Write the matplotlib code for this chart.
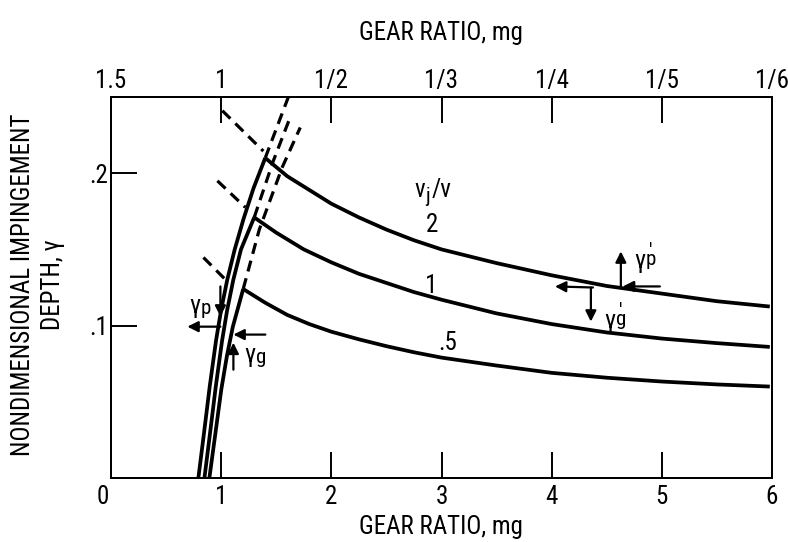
import matplotlib
matplotlib.use("Agg")
import matplotlib.pyplot as plt
from matplotlib import font_manager
from matplotlib.transforms import ScaledTranslation

names = {f.name for f in font_manager.fontManager.ttflist}
FAM = 'DejaVu Sans'
for cand in ['Liberation Sans Narrow', 'Roboto Condensed', 'DejaVu Sans Condensed', 'Roboto']:
    if cand in names:
        FAM = cand
        break
plt.rcParams['font.family'] = [FAM, 'DejaVu Sans']

# ---- data ----
# main curves (vj/v = 2, 1, .5)
c2_x = [1.40, 1.6, 1.8, 2.0, 2.25, 2.5, 2.75, 3.0, 3.5, 4.0, 4.5, 5.0, 5.5, 5.98]
c2_y = [0.210, 0.198, 0.189, 0.180, 0.171, 0.163, 0.156, 0.150, 0.141, 0.133, 0.126, 0.121, 0.116, 0.1125]
c1_x = [1.30, 1.5, 1.75, 2.0, 2.25, 2.5, 2.75, 3.0, 3.5, 4.0, 4.5, 5.0, 5.5, 5.98]
c1_y = [0.171, 0.161, 0.150, 0.1415, 0.134, 0.128, 0.122, 0.117, 0.108, 0.101, 0.0955, 0.0915, 0.0885, 0.086]
c05_x = [1.20, 1.4, 1.6, 1.8, 2.0, 2.25, 2.5, 2.75, 3.0, 3.5, 4.0, 4.5, 5.0, 5.5, 5.98]
c05_y = [0.124, 0.115, 0.107, 0.101, 0.096, 0.091, 0.0865, 0.0825, 0.079, 0.0738, 0.069, 0.0658, 0.0633, 0.0614, 0.060]

# rising (solid) branches, one per curve
r2_y = [0.0, 0.03, 0.06, 0.09, 0.11, 0.13, 0.15, 0.17, 0.19, 0.210]
r2_x = [0.793, 0.845, 0.896, 0.953, 0.999, 1.055, 1.123, 1.203, 1.293, 1.40]
r1_y = [0.0, 0.03, 0.06, 0.09, 0.11, 0.13, 0.15, 0.171]
r1_x = [0.848, 0.900, 0.951, 1.008, 1.054, 1.110, 1.180, 1.30]
r05_y = [0.0, 0.03, 0.058, 0.08, 0.099, 0.124]
r05_x = [0.893, 0.949, 1.001, 1.052, 1.105, 1.20]

# dashed continuations upward
u2_x = [1.40, 1.61]
u2_y = [0.210, 0.250]
u1_x = [1.30, 1.473, 1.628]
u1_y = [0.171, 0.208, 0.237]
u05_x = [1.20, 1.346, 1.555, 1.718]
u05_y = [0.124, 0.163, 0.204, 0.230]

# dashed extrapolations to the left of the peaks
l2_x = [1.011, 1.383]
l2_y = [0.241, 0.2145]
l1_x = [0.966, 1.219]
l1_y = [0.195, 0.1776]
l05_x = [0.839, 1.065]
l05_y = [0.1447, 0.1283]

bottom_ticks = [0, 1, 2, 3, 4, 5, 6]
bottom_labels = ['0', '1', '2', '3', '4', '5', '6']
top_ticks = [0, 1, 2, 3, 4, 5, 6]
top_labels = ['1.5', '1', '1/2', '1/3', '1/4', '1/5', '1/6']
y_ticks = [0.1, 0.2]
y_labels = ['.1', '.2']
curve_labels = ['2', '1', '.5']

FS = 18
SFS = 15
LW = 2.7
fig = plt.figure(figsize=(7.88, 5.42), dpi=100)
ax = fig.add_axes([111/788, 1 - 478/542, (772 - 111)/788, (478 - 97)/542])
ax.set_xlim(0, 6)
ax.set_ylim(0, 0.25)

for xs, ys in [(c2_x, c2_y), (c1_x, c1_y), (c05_x, c05_y),
               (r2_x, r2_y), (r1_x, r1_y), (r05_x, r05_y)]:
    ax.plot(xs, ys, color='black', lw=LW, solid_capstyle='butt', solid_joinstyle='round')
for xs, ys in [(u2_x, u2_y), (u1_x, u1_y), (u05_x, u05_y),
               (l2_x, l2_y), (l1_x, l1_y), (l05_x, l05_y)]:
    ax.plot(xs, ys, color='black', lw=2.3, dashes=(3.5, 2.2), dash_capstyle='butt')

for sp in ax.spines.values():
    sp.set_linewidth(1.4)

ax.set_xticks(bottom_ticks)
ax.set_xticklabels(bottom_labels, fontsize=FS)
ax.set_yticks(y_ticks)
ax.set_yticklabels(y_labels, fontsize=FS)
ax.tick_params(axis='x', direction='in', length=19, width=1.4, pad=5)
ax.tick_params(axis='y', direction='in', length=19, width=1.4, pad=2)
zero_lab = ax.get_xticklabels()[0]
zero_lab.set_transform(zero_lab.get_transform() + ScaledTranslation(-8/100, 0, fig.dpi_scale_trans))

ax2 = ax.twiny()
ax2.set_xlim(0, 6)
ax2.set_xticks(top_ticks)
ax2.set_xticklabels(top_labels, fontsize=FS)
ax2.tick_params(axis='x', direction='in', length=19, width=1.4, pad=3)
for sp in ax2.spines.values():
    sp.set_linewidth(1.4)

fig.text(441/788, 1 - 33/542, 'GEAR RATIO, mg', ha='center', va='center', fontsize=FS)
fig.text(441/788, 1 - 527/542, 'GEAR RATIO, mg', ha='center', va='center', fontsize=FS)
fig.text(38/788, 1 - 285/542, 'NONDIMENSIONAL IMPINGEMENT\nDEPTH, γ', rotation=90,
         ha='center', va='center', fontsize=FS, linespacing=1.3, multialignment='center')

# v_j / v heading
ax.text(2.849, 0.1844, 'v', fontsize=FS, ha='right', va='baseline')
ax.annotate('j', xy=(2.849, 0.1844), xytext=(0.5, -3.5), textcoords='offset points',
            fontsize=SFS, ha='left', va='baseline')
ax.annotate('/v', xy=(2.849, 0.1844), xytext=(5.0, 0), textcoords='offset points',
            fontsize=FS, ha='left', va='baseline')

# curve labels
ax.text(2.915, 0.1658, curve_labels[0], fontsize=FS, ha='center', va='center')
ax.text(2.906, 0.1263, curve_labels[1], fontsize=FS, ha='center', va='center')
ax.text(3.06, 0.0888, curve_labels[2], fontsize=FS, ha='center', va='center')

arw = dict(arrowstyle='-|>', lw=1.6, color='black', mutation_scale=16, shrinkA=0, shrinkB=0)

def arrow(x0, y0, x1, y1):
    ax.annotate('', xy=(x1, y1), xytext=(x0, y0), arrowprops=arw)

def glabel(x, y, sub, prime=False):
    # x, y: right edge / baseline of the gamma
    ax.text(x, y, 'γ', fontsize=FS, ha='right', va='baseline')
    if prime:
        ax.annotate("'\n" + sub, xy=(x, y), xytext=(0.5, 2.0), textcoords='offset points',
                    fontsize=SFS, ha='left', va='baseline', linespacing=0.3,
                    multialignment='center')
    else:
        ax.annotate(sub, xy=(x, y), xytext=(0.5, -1.0), textcoords='offset points',
                    fontsize=SFS, ha='left', va='baseline')

# gamma_p, gamma_g at the left
arrow(0.993, 0.0993, 0.693, 0.0993)
arrow(0.993, 0.1257, 0.993, 0.1059)
glabel(0.808, 0.1083, 'p')
arrow(1.401, 0.0941, 1.111, 0.0941)
arrow(1.111, 0.0711, 1.111, 0.0888)
glabel(1.307, 0.0761, 'g')

# gamma'_p, gamma'_g at the right
arrow(4.628, 0.1257, 4.628, 0.1487)
glabel(4.846, 0.1378, 'p', prime=True)
arrow(4.982, 0.1257, 4.646, 0.1257)
arrow(4.375, 0.125, 4.03, 0.1257)
arrow(4.356, 0.125, 4.356, 0.1026)
glabel(4.574, 0.0984, 'g', prime=True)

fig.savefig('out.png', dpi=100)
